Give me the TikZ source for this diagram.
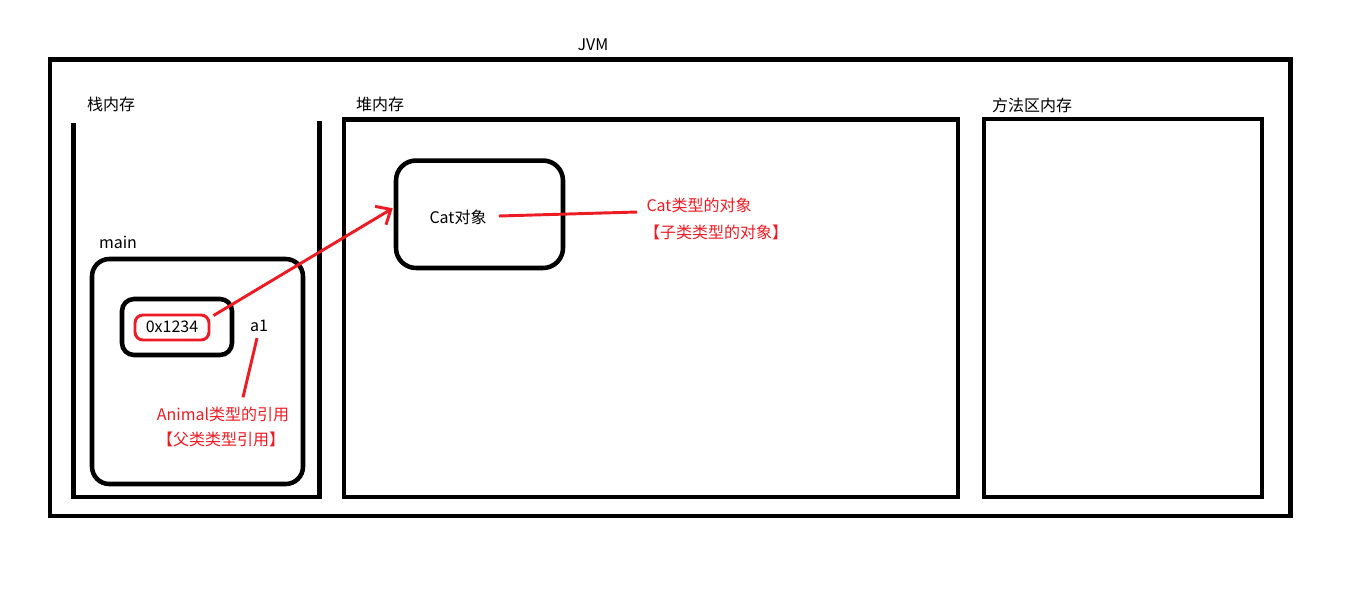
\documentclass[tikz,border=0pt]{standalone}
\usepackage{fontspec}
\setmainfont{Noto Sans CJK SC}
\usetikzlibrary{arrows.meta,calc}
\definecolor{pred}{RGB}{237,28,36}
\tikzset{
  blk/.style={line width=3.4pt, draw=black},
  redline/.style={draw=pred, line width=2.2pt},
  lbl/.style={inner sep=0pt, font=\fontsize{12}{14}\selectfont, text=black},
  redlbl/.style={inner sep=0pt, font=\fontsize{12}{14}\selectfont, text=pred},
  rbox/.style={draw=black, line width=3.4pt, rounded corners=#1, inner sep=0pt},
}
\begin{document}
\begin{tikzpicture}[x=0.75pt, y=-0.75pt]
\useasboundingbox (0,0) rectangle (1360,597);
\fill[white] (0,0) rectangle (1360,597);
% JVM outer
\draw[blk] (50,59.5) rectangle (1290.5,516);
\node[lbl] (jvm) at (593,45) {JVM};
% stack area (open top)
\draw[blk] (73.5,123) -- (73.5,497) -- (319.5,497) -- (319.5,121);
\node[lbl] (stacklbl) at (111,104) {栈内存};
% heap
\draw[blk] (344,119.5) rectangle (958,497);
\node[lbl] (heaplbl) at (380,104) {堆内存};
% method area
\draw[blk] (984,119) rectangle (1262,497);
\node[lbl] (methlbl) at (1032,105) {方法区内存};
% main frame
\node[rbox=13pt, minimum width=158.25pt, minimum height=168.75pt] (mainbox) at (197.5,371.5) {};
\node[lbl] (mainlbl) at (118,242) {main};
\node[rbox=9pt, minimum width=82.5pt, minimum height=42pt] (varbox) at (177,327) {};
\node[draw=pred, line width=2.2pt, rounded corners=6pt, inner sep=0pt, minimum width=55.5pt, minimum height=18.75pt] (addr) at (172,327.5) {};
\node[lbl] (addrtxt) at (172,327) {0x1234};
\node[lbl] (a1) at (259,326) {a1};
\node[redlbl] (animal) at (223,414) {Animal类型的引用};
\node[redlbl] (parent) at (221,439) {【父类类型引用】};
% Cat object
\node[rbox=15pt, minimum width=125.25pt, minimum height=80.6pt] (catbox) at (479.5,214.25) {};
\node[lbl] (cattxt) at (458,217) {Cat对象};
\node[redlbl] (catlbl) at (699,205) {Cat类型的对象};
\node[redlbl] (sublbl) at (716,232) {【子类类型的对象】};
% connectors
\coordinate (arrstart) at ($(addr.north east)+(3,2)$);
\coordinate (arrend) at ($(catbox.west)+(-1,-6)$);
\draw[redline, -{Straight Barb[length=9pt, width=16pt, line width=2.2pt]}] (arrstart) -- (arrend);
\coordinate (a1top) at ($(a1.south)+(-2,6)$);
\coordinate (a1bot) at ($(animal.north)+(20,-9)$);
\draw[redline] (a1top) -- (a1bot);
\coordinate (cstart) at ($(cattxt.east)+(12,-1)$);
\coordinate (cend) at ($(catlbl.west)+(-9,7)$);
\draw[redline] (cstart) -- (cend);
\end{tikzpicture}
\end{document}
